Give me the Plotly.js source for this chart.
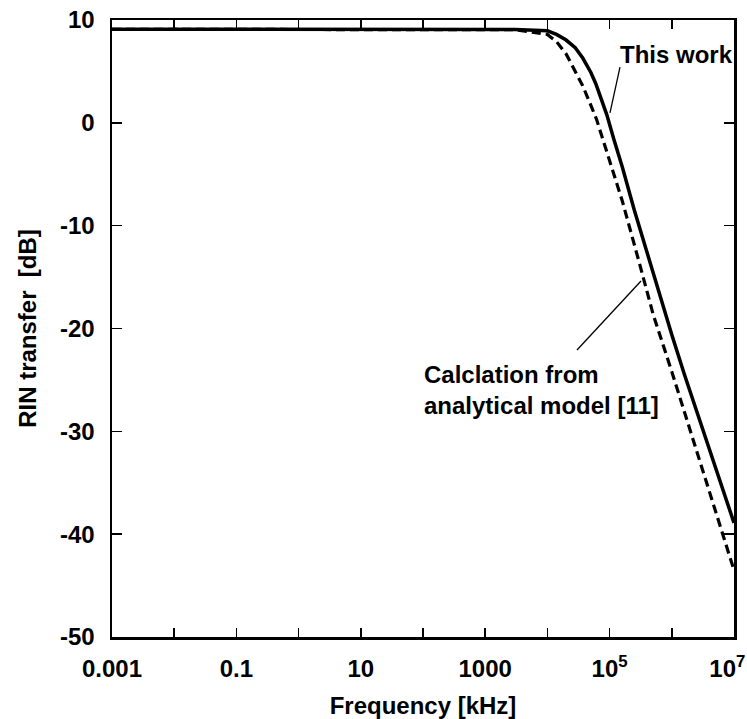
<!DOCTYPE html>
<html>
<head>
<meta charset="utf-8">
<script src="https://cdn.plot.ly/plotly-3.0.1.min.js"></script>
<style>html,body{margin:0;padding:0;background:#fff;}#chart{width:747px;height:719px;}</style>
</head>
<body>
<div id="chart"></div>
<script>
// Frequency in kHz, RIN transfer in dB
const freqThisWork = [0.001, 0.01, 0.1, 1, 10, 100, 1000, 3000, 1e4, 1.4e4, 2e4, 2.8e4, 3.7e4, 5e4, 6e4, 7.4e4, 9e4, 1.17e5, 1.6e5, 2.5e5, 4.8e5, 1e6, 1.6e6, 2.8e6, 5e6, 1e7];
const rinThisWork  = [9.1, 9.1, 9.1, 9.1, 9.1, 9.1, 9.1, 9.08, 8.95, 8.6, 8.05, 7.3, 6.3, 4.9, 3.8, 2.3, 0.8, -1.6, -4.3, -8.5, -14.3, -20.6, -24.5, -28.9, -33.5, -38.9];

const freqModel = [0.001, 0.01, 0.1, 1, 10, 100, 1000, 3000, 1e4, 1.4e4, 2e4, 2.8e4, 3.7e4, 5e4, 6.2e4, 7.6e4, 1e5, 1.6e5, 3e5, 5e5, 1e6, 1.75e6, 3.2e6, 5.6e6, 1e7];
const rinModel  = [9.1, 9.1, 9.1, 9.1, 9.1, 9.1, 9.1, 9.05, 8.6, 7.9, 6.7, 5.0, 3.6, 1.7, 0.3, -1.4, -3.7, -7.6, -13.6, -18.6, -24.2, -28.9, -34.0, -38.8, -43.5];

const xTickVals = [0.001, 0.1, 10, 1000, 1e5, 1e7];
const xTickText = ['0.001', '0.1', '10', '1000', '10<sup>5</sup>', '10<sup>7</sup>\u00a0\u00a0'];
const xMinorVals = [0.01, 1, 100, 1e4, 1e6];
const yTickVals = [10, 0, -10, -20, -30, -40, -50];
const yTickText = ['10', '0', '-10', '-20', '-30', '-40', '-50'];

const FONT = 'Liberation Sans, Arial, Helvetica, sans-serif';
const f = (s) => ({family: FONT, size: s, weight: 'bold', color: '#000'});

const traces = [
  {x: freqModel, y: rinModel, mode: 'lines', type: 'scatter', name: 'Calclation from analytical model [11]',
   line: {color: '#000', width: 3.2, dash: '9px,5px'}},
  {x: freqThisWork, y: rinThisWork, mode: 'lines', type: 'scatter', name: 'This work',
   line: {color: '#000', width: 3.5}}
];

const layout = {
  width: 747, height: 719,
  margin: {l: 112, r: 13, t: 20, b: 82},
  paper_bgcolor: '#fff', plot_bgcolor: '#fff',
  showlegend: false,
  font: f(24),
  xaxis: {
    type: 'log', range: [-3, 7], autorange: false,
    tickmode: 'array', tickvals: xTickVals, ticktext: xTickText,
    ticks: 'inside', ticklen: 9, tickwidth: 1.5, tickcolor: '#000',
    minor: {tickmode: 'array', tickvals: xMinorVals, ticks: 'inside', ticklen: 9, tickwidth: 1.5, tickcolor: '#000', showgrid: false},
    showline: true, linecolor: '#000', linewidth: 2.5, mirror: 'ticks',
    showgrid: false, zeroline: false,
    tickfont: f(24),
    ticklabelstandoff: 9,
    ticklabeloverflow: 'allow',
    title: {text: 'Frequency [kHz]', font: f(24), standoff: 16}
  },
  yaxis: {
    range: [-50, 10], autorange: false,
    tickmode: 'array', tickvals: yTickVals, ticktext: yTickText,
    ticks: 'inside', ticklen: 10, tickwidth: 1.5, tickcolor: '#000',
    showline: true, linecolor: '#000', linewidth: 2.5, mirror: 'ticks',
    showgrid: false, zeroline: false,
    tickfont: f(24),
    ticklabelstandoff: 10,
    ticklabeloverflow: 'allow',
    title: {text: 'RIN transfer\u00a0\u00a0[dB]', font: f(24), standoff: 17}
  },
  shapes: [
    {type: 'line', xref: 'paper', yref: 'paper', x0: 0.8167, y0: 0.9238, x1: 0.8006, y1: 0.8493,
     line: {color: '#000', width: 1.3}},
    {type: 'line', xref: 'paper', yref: 'paper', x0: 0.7476, y0: 0.4652, x1: 0.8505, y1: 0.577,
     line: {color: '#000', width: 1.3}}
  ],
  annotations: [
    {x: 6.08, y: 6.6, xref: 'x', yref: 'y', text: 'This work', showarrow: false,
     font: f(24), xanchor: 'center', yanchor: 'middle'},
    {x: 1.98, y: -26.0, xref: 'x', yref: 'y', text: 'Calclation from<br>analytical model [11]', showarrow: false,
     align: 'left', xanchor: 'left', yanchor: 'middle', font: f(24)}
  ]
};

Plotly.newPlot('chart', traces, layout, {displayModeBar: false, staticPlot: true});
</script>
</body>
</html>
